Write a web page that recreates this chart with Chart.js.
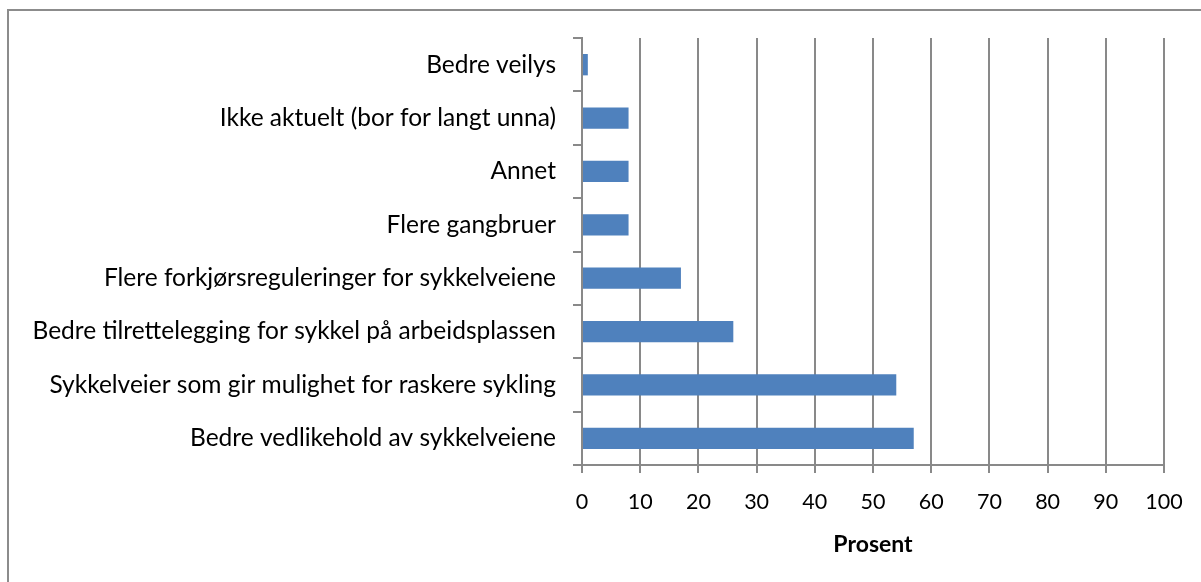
<!DOCTYPE html>
<html>
<head>
<meta charset="utf-8">
<script src="https://cdn.jsdelivr.net/npm/chart.js@4.4.0/dist/chart.umd.min.js"></script>
<style>
  html, body { margin: 0; padding: 0; background: #fff; }
  #wrap { position: relative; width: 1201px; height: 582px; overflow: hidden; }
  #frame { position: absolute; left: 7px; top: 9px; width: 1300px; height: 700px;
           border-top: 2px solid #8c8c8c; border-left: 2px solid #8c8c8c; }
  #c { position: absolute; left: 0; top: 0; }
</style>
</head>
<body>
<div id="wrap">
  <div id="frame"></div>
  <canvas id="c" width="1201" height="582"></canvas>
</div>
<script>
// kategorier (fra topp til bunn)
const categories = [
    'Bedre veilys',
    'Ikke aktuelt (bor for langt unna)',
    'Annet',
    'Flere gangbruer',
    'Flere forkjørsreguleringer for sykkelveiene',
    'Bedre tilrettelegging for sykkel på arbeidsplassen',
    'Sykkelveier som gir mulighet for raskere sykling',
    'Bedre vedlikehold av sykkelveiene'
];

// prosentverdier
const prosent = [1, 8, 8, 8, 17, 26, 54, 57];

const xMin = 0;
const xMax = 100;
const xStep = 10;
const xTitle = 'Prosent';

const FONT = 'Lato, "Open Sans", sans-serif';
const gridGray = '#898989';

new Chart(document.getElementById('c').getContext('2d'), {
    type: 'bar',
    data: {
        labels: categories,
        datasets: [{
            data: prosent,
            backgroundColor: '#4F81BD',
            borderWidth: 0,
            barPercentage: 0.4,
            categoryPercentage: 1
        }]
    },
    options: {
        indexAxis: 'y',
        responsive: false,
        animation: false,
        layout: { padding: { top: 38, right: 37, bottom: 0, left: 0 } },
        plugins: {
            legend: { display: false },
            tooltip: { enabled: false }
        },
        scales: {
            y: {
                grid: {
                    drawOnChartArea: false,
                    drawTicks: true,
                    tickLength: 9,
                    color: gridGray,
                    lineWidth: 2
                },
                border: { color: gridGray, width: 2 },
                ticks: {
                    color: '#000',
                    padding: 17,
                    font: { family: FONT, size: 24.5 }
                },
                afterFit: (scale) => { scale.width = 582; }
            },
            x: {
                min: xMin,
                max: xMax,
                grid: {
                    color: gridGray,
                    lineWidth: 2,
                    tickLength: 8
                },
                border: { color: gridGray, width: 2 },
                ticks: {
                    stepSize: xStep,
                    color: '#000',
                    padding: 16,
                    maxRotation: 0,
                    font: { family: FONT, size: 21.5 }
                },
                title: {
                    display: true,
                    text: xTitle,
                    color: '#000',
                    padding: { top: 0, bottom: 24 },
                    font: { family: FONT, size: 23, weight: 'bold' }
                },
                afterFit: (scale) => { scale.height = 117; }
            }
        }
    }
});
</script>
</body>
</html>
